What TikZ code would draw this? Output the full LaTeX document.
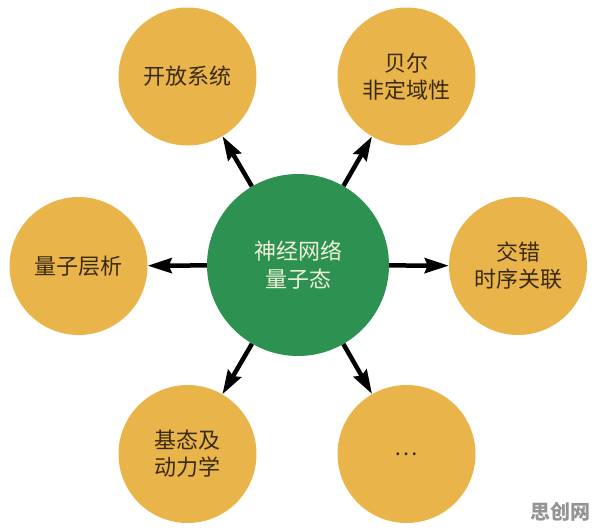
\documentclass[tikz,border=0pt]{standalone}
\usepackage{fontspec}
\newfontfamily\cjk{Noto Sans CJK SC}
\usetikzlibrary{arrows.meta}
\definecolor{gold}{HTML}{E9B54B}
\definecolor{dgreen}{HTML}{2D9151}
\definecolor{brownt}{HTML}{3A2A12}
\definecolor{creamt}{HTML}{EEF0D8}
\tikzset{
  outer/.style={circle, fill=gold, minimum size=138pt, inner sep=0pt, align=center,
    text=brownt, font=\cjk\fontsize{22}{27}\selectfont},
  hub/.style={circle, fill=dgreen, minimum size=182pt, inner sep=0pt, align=center,
    text=creamt, font=\cjk\fontsize{22}{28}\selectfont},
  arrowline/.style={line width=4.5pt, draw=black,
    -{Stealth[length=24pt, width=15pt, inset=3pt]}},
  wmark/.style={text=black!42, font=\cjk\bfseries\fontsize{20}{22}\selectfont, inner sep=0pt}
}
\begin{document}
\begin{tikzpicture}[x=1pt, y=-1pt]
\useasboundingbox (0,0) rectangle (596,531);
\node[hub] (c) at (298,265) {神经网络\\量子态};
\node[outer] (o1) at (187.5,76.5) {开放系统};
\node[outer] (o2) at (406.5,76.5) {贝尔\\非定域性};
\node[outer] (o3) at (78.5,266) {量子层析};
\node[outer] (o4) at (518,266) {交错\\时序关联};
\node[outer] (o5) at (187.5,454) {基态及\\动力学};
\node[outer] (o6) at (406.5,454) {…};
\foreach \t in {o1,o2,o3,o4,o5,o6}{
  \draw[arrowline] (c) -- (\t);
}
\node[wmark] (wm) at (560,512) {思创网};
\end{tikzpicture}
\end{document}
